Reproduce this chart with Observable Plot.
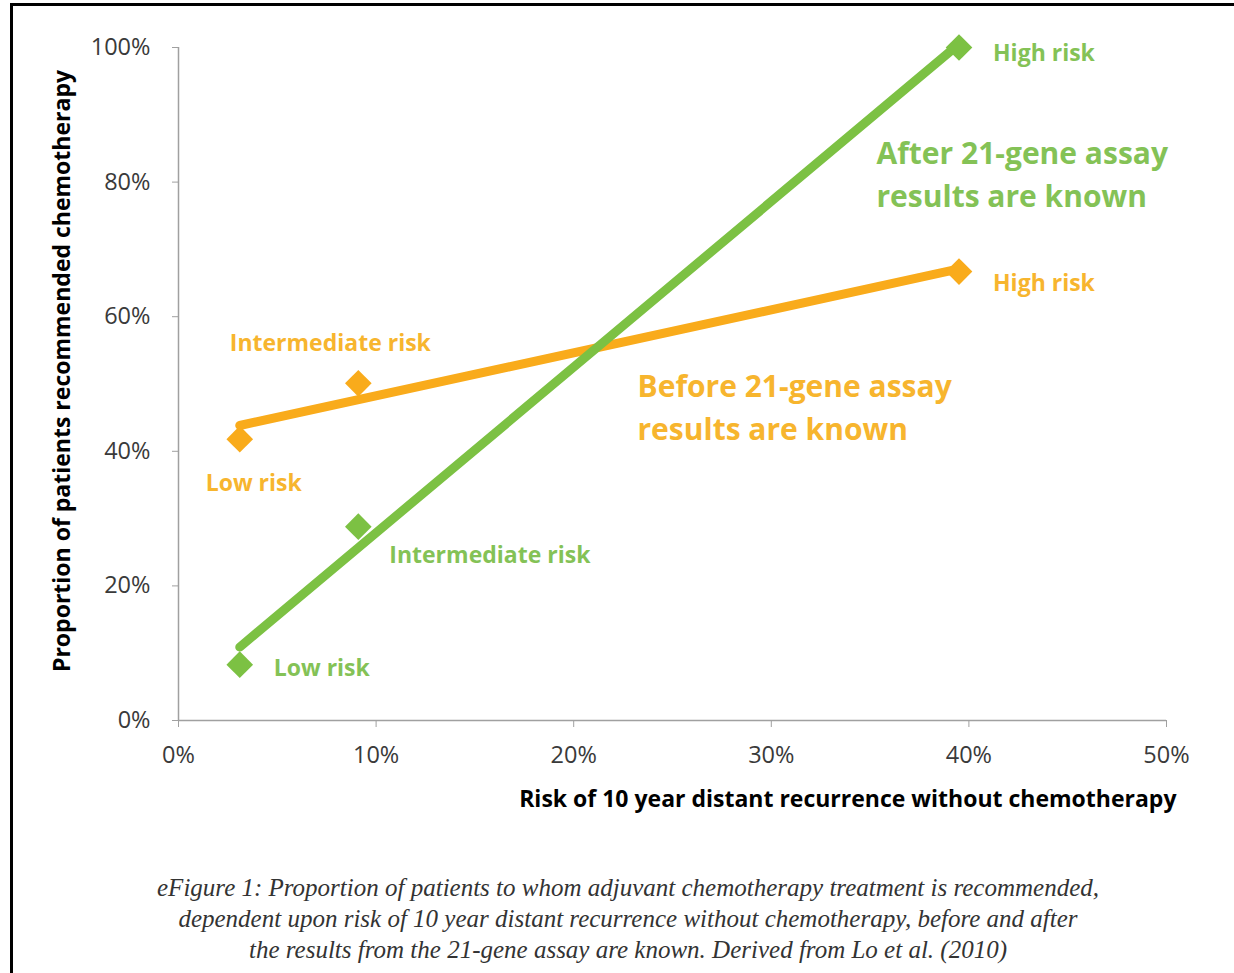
<!DOCTYPE html>
<html>
<head>
<meta charset="utf-8">
<script src="https://cdn.jsdelivr.net/npm/d3@7"></script>
<script src="https://cdn.jsdelivr.net/npm/@observablehq/plot@0.6"></script>
<style>
  html, body { margin: 0; padding: 0; background: #fff; overflow: hidden; }
  #page { position: relative; width: 1234px; height: 973px; overflow: hidden; }
  #frame { position: absolute; left: 10px; top: 3px; width: 1221px; height: 967px;
           border-left: 3px solid #000; border-top: 3px solid #000; }
  #chart { position: absolute; left: 0; top: 0; }
  #caption { position: absolute; left: 22px; width: 1212px; top: 872px; text-align: center;
             font-family: "Liberation Serif", "DejaVu Serif", serif; font-style: italic;
             font-size: 25px; line-height: 31px; color: #333; }
</style>
</head>
<body>
<div id="page">
  <div id="frame"></div>
  <div id="chart"></div>
  <div id="caption">eFigure 1: Proportion of patients to whom adjuvant chemotherapy treatment is recommended,<br>dependent upon risk of 10 year distant recurrence without chemotherapy, before and after<br>the results from the 21-gene assay are known. Derived from Lo et al. (2010)</div>
</div>
<script>
// ---- data ----
const riskGroups = ["Low risk", "Intermediate risk", "High risk"];
const recurrenceRisk = [3.1, 9.1, 39.5];          // % risk of 10-year distant recurrence
const beforeAssay = [41.8, 50.1, 66.7];           // % recommended chemo, before assay
const afterAssay = [8.3, 28.8, 100];              // % recommended chemo, after assay
const seriesLabels = ["Before 21-gene assay\nresults are known", "After 21-gene assay\nresults are known"];
const xTicks = [0, 10, 20, 30, 40, 50];
const yTicks = [0, 20, 40, 60, 80, 100];
const xTitle = "Risk of 10 year distant recurrence without chemotherapy";
const yTitle = "Proportion of patients recommended chemotherapy";

// ---- build rows ----
const beforeRows = riskGroups.map((g, i) => ({group: g, x: recurrenceRisk[i], y: beforeAssay[i]}));
const afterRows = riskGroups.map((g, i) => ({group: g, x: recurrenceRisk[i], y: afterAssay[i]}));

const GREEN = "#7cc143", GREEN_TXT = "#84c256";
const ORANGE = "#f9ab1b", ORANGE_TXT = "#f7b52e";
const FONT = "'Open Sans', Lato, sans-serif";

const pick = (rows, g) => rows.filter(d => d.group === g);
const lbl = (rows, g, fill, opts) => Plot.text(pick(rows, g), {
  x: "x", y: "y", text: "group", fill, fontWeight: "bold", fontSize: 23, ...opts
});

const chart = Plot.plot({
  width: 1234,
  height: 830,
  marginLeft: 178,
  marginRight: 68,
  marginTop: 47,
  marginBottom: 110,
  style: {fontFamily: FONT, background: "transparent"},
  x: {domain: [0, 50]},
  y: {domain: [0, 100]},
  marks: [
    Plot.axisX({ticks: xTicks, tickFormat: d => d + "%", tickSize: 7, tickPadding: 19,
      fontSize: 23.5, fill: "#3a3a3a", stroke: "#a0a0a0", label: null}),
    Plot.axisY({ticks: yTicks, tickFormat: d => d + "%", tickSize: 6, tickPadding: 22,
      fontSize: 23.5, fill: "#3a3a3a", stroke: "#a0a0a0", label: null}),
    Plot.ruleY([0], {stroke: "#a0a0a0", strokeWidth: 1.5}),
    Plot.ruleX([0], {stroke: "#a0a0a0", strokeWidth: 1.5}),
    // trend lines
    Plot.linearRegressionY(beforeRows, {x: "x", y: "y", ci: 0, stroke: ORANGE, strokeWidth: 9}),
    Plot.linearRegressionY(afterRows, {x: "x", y: "y", ci: 0, stroke: GREEN, strokeWidth: 9}),
    // markers
    Plot.dot(beforeRows, {x: "x", y: "y", symbol: "diamond2", r: 12, fill: ORANGE, stroke: null}),
    Plot.dot(afterRows, {x: "x", y: "y", symbol: "diamond2", r: 12, fill: GREEN, stroke: null}),
    // point labels
    lbl(afterRows, "High risk", GREEN_TXT, {textAnchor: "start", dx: 34, dy: 6}),
    lbl(afterRows, "Intermediate risk", GREEN_TXT, {textAnchor: "start", dx: 31, dy: 29}),
    lbl(afterRows, "Low risk", GREEN_TXT, {textAnchor: "start", dx: 34, dy: 4}),
    lbl(beforeRows, "High risk", ORANGE_TXT, {textAnchor: "start", dx: 34, dy: 12}),
    lbl(beforeRows, "Intermediate risk", ORANGE_TXT, {textAnchor: "middle", dx: -28, dy: -40}),
    lbl(beforeRows, "Low risk", ORANGE_TXT, {textAnchor: "middle", dx: 14, dy: 44}),
    // series annotations
    Plot.text([seriesLabels[1]], {text: d => d, frameAnchor: "top-left", textAnchor: "start", lineAnchor: "middle",
      dx: 698, dy: 124, lineHeight: 1.43, fontSize: 30, fontWeight: "bold", fill: GREEN_TXT}),
    Plot.text([seriesLabels[0]], {text: d => d, frameAnchor: "top-left", textAnchor: "start", lineAnchor: "middle",
      dx: 459, dy: 357, lineHeight: 1.43, fontSize: 30, fontWeight: "bold", fill: ORANGE_TXT}),
    // axis titles
    Plot.text([xTitle], {text: d => d, frameAnchor: "bottom-right", textAnchor: "end",
      dx: 10, dy: 86, fontSize: 23, fontWeight: "bold", fill: "#000"}),
    Plot.text([yTitle], {text: d => d, frameAnchor: "left", textAnchor: "middle", rotate: -90,
      dx: -116, dy: -13, fontSize: 23, fontWeight: "bold", fill: "#000"})
  ]
});
document.getElementById("chart").appendChild(chart);
</script>
</body>
</html>
